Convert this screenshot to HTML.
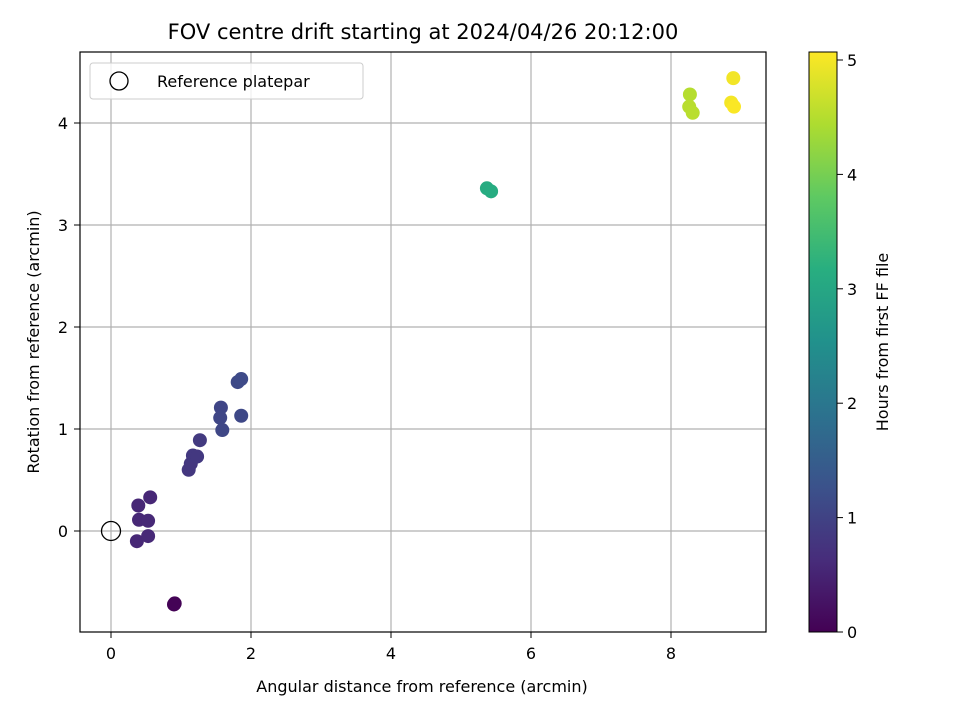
<!DOCTYPE html>
<html><head><meta charset="utf-8"><style>body{margin:0;background:#fff}svg text{font-family:"DejaVu Sans","Liberation Sans",sans-serif;fill:#000}</style></head>
<body>
<svg id="chart" width="960" height="720" viewBox="0 0 960 720" xmlns="http://www.w3.org/2000/svg">
<defs><linearGradient id="cb" x1="0" y1="1" x2="0" y2="0">
<stop offset="0" stop-color="#440154"/><stop offset="0.125" stop-color="#472d7b"/><stop offset="0.25" stop-color="#3b528b"/><stop offset="0.375" stop-color="#2c728e"/><stop offset="0.5" stop-color="#21918c"/><stop offset="0.625" stop-color="#28ae80"/><stop offset="0.75" stop-color="#5ec962"/><stop offset="0.875" stop-color="#addc30"/><stop offset="1" stop-color="#fde725"/></linearGradient></defs>
<text x="423" y="39" font-size="21" text-anchor="middle">FOV centre drift starting at 2024/04/26 20:12:00</text>
<g id="grid"></g><g id="pts"></g>
<rect x="80" y="52" width="686" height="580" fill="none" stroke="#000" stroke-width="1.2"/>
<g id="ticks"></g>
<text x="422" y="692" font-size="16" text-anchor="middle">Angular distance from reference (arcmin)</text>
<text transform="translate(39,342) rotate(-90)" font-size="16" text-anchor="middle">Rotation from reference (arcmin)</text>
<g>
<rect x="90" y="63" width="273" height="36" rx="3" fill="#fff" fill-opacity="0.8" stroke="#ccc"/>
<circle cx="119" cy="81" r="9" fill="none" stroke="#000" stroke-width="1.3"/>
<text x="157" y="87" font-size="16">Reference platepar</text></g>
<rect x="809" y="52" width="28" height="580" fill="url(#cb)" stroke="#000" stroke-width="1"/>
<g id="cbticks"></g>
<text transform="translate(888,342) rotate(-90)" font-size="16" text-anchor="middle">Hours from first FF file</text>
</svg>
<script>
const xs=[0.9,0.91,0.39,0.56,0.4,0.53,0.37,0.53,1.11,1.14,1.17,1.23,1.27,1.57,1.56,1.59,1.86,1.81,1.86,5.37,5.43,8.27,8.26,8.31,8.89,8.86,8.9];
const ys=[-0.72,-0.71,0.25,0.33,0.11,0.1,-0.1,-0.05,0.6,0.66,0.74,0.73,0.89,1.21,1.11,0.99,1.13,1.46,1.49,3.36,3.33,4.28,4.16,4.1,4.44,4.2,4.16];
const hours=[0.02,0.03,0.55,0.55,0.56,0.57,0.56,0.57,0.8,0.8,0.82,0.83,0.85,1.05,1.07,1.08,1.1,1.12,1.13,3.1,3.12,4.5,4.52,4.53,4.98,5.0,5.05];
const xTicks=[0,2,4,6,8],yTicks=[0,1,2,3,4],cTicks=[0,1,2,3,4,5];
const X=v=>111+70*v,Y=v=>531-102*v,C=v=>632-114.4*v;
const vir=["#440154","#472d7b","#3b528b","#2c728e","#21918c","#28ae80","#5ec962","#addc30","#fde725"];
function col(h){let t=Math.max(0,Math.min(1,h/5.07))*8,i=Math.min(7,Math.floor(t)),f=t-i;
const a=vir[i],b=vir[i+1],p=s=>[1,3,5].map(k=>parseInt(s.substr(k,2),16));const A=p(a),B=p(b);
return "rgb("+A.map((v,k)=>Math.round(v+(B[k]-v)*f)).join(",")+")";}
const NS="http://www.w3.org/2000/svg";
function mk(t,at,par){const e=document.createElementNS(NS,t);for(const k in at)e.setAttribute(k,at[k]);document.getElementById(par).appendChild(e);return e;}
xTicks.forEach(v=>{const l=mk("line",{x1:X(v),x2:X(v),y1:52,y2:632,stroke:"#b0b0b0","stroke-width":1.2},"grid");


mk("line",{x1:X(v),x2:X(v),y1:632,y2:638,stroke:"#000"},"ticks");
const t=mk("text",{x:X(v),y:659,"font-size":16,"text-anchor":"middle"},"ticks");t.textContent=v;

});
yTicks.forEach(v=>{const l=mk("line",{x1:80,x2:766,y1:Y(v),y2:Y(v),stroke:"#b0b0b0","stroke-width":1.2},"grid");


mk("line",{x1:74,x2:80,y1:Y(v),y2:Y(v),stroke:"#000"},"ticks");
const t=mk("text",{x:68,y:Y(v)+6,"font-size":16,"text-anchor":"end"},"ticks");t.textContent=v;

});
cTicks.forEach(v=>{mk("line",{x1:837,x2:843,y1:C(v),y2:C(v),stroke:"#000"},"cbticks");
const t=mk("text",{x:847,y:C(v)+6,"font-size":16},"cbticks");t.textContent=v;

});
xs.forEach((x,i)=>{const c=mk("circle",{cx:X(x),cy:Y(ys[i]),r:7,fill:col(hours[i])},"pts");

});
const r=mk("circle",{cx:X(0),cy:Y(0),r:9.5,fill:"none",stroke:"#000","stroke-width":1.3},"pts");


</script>
</body></html>
